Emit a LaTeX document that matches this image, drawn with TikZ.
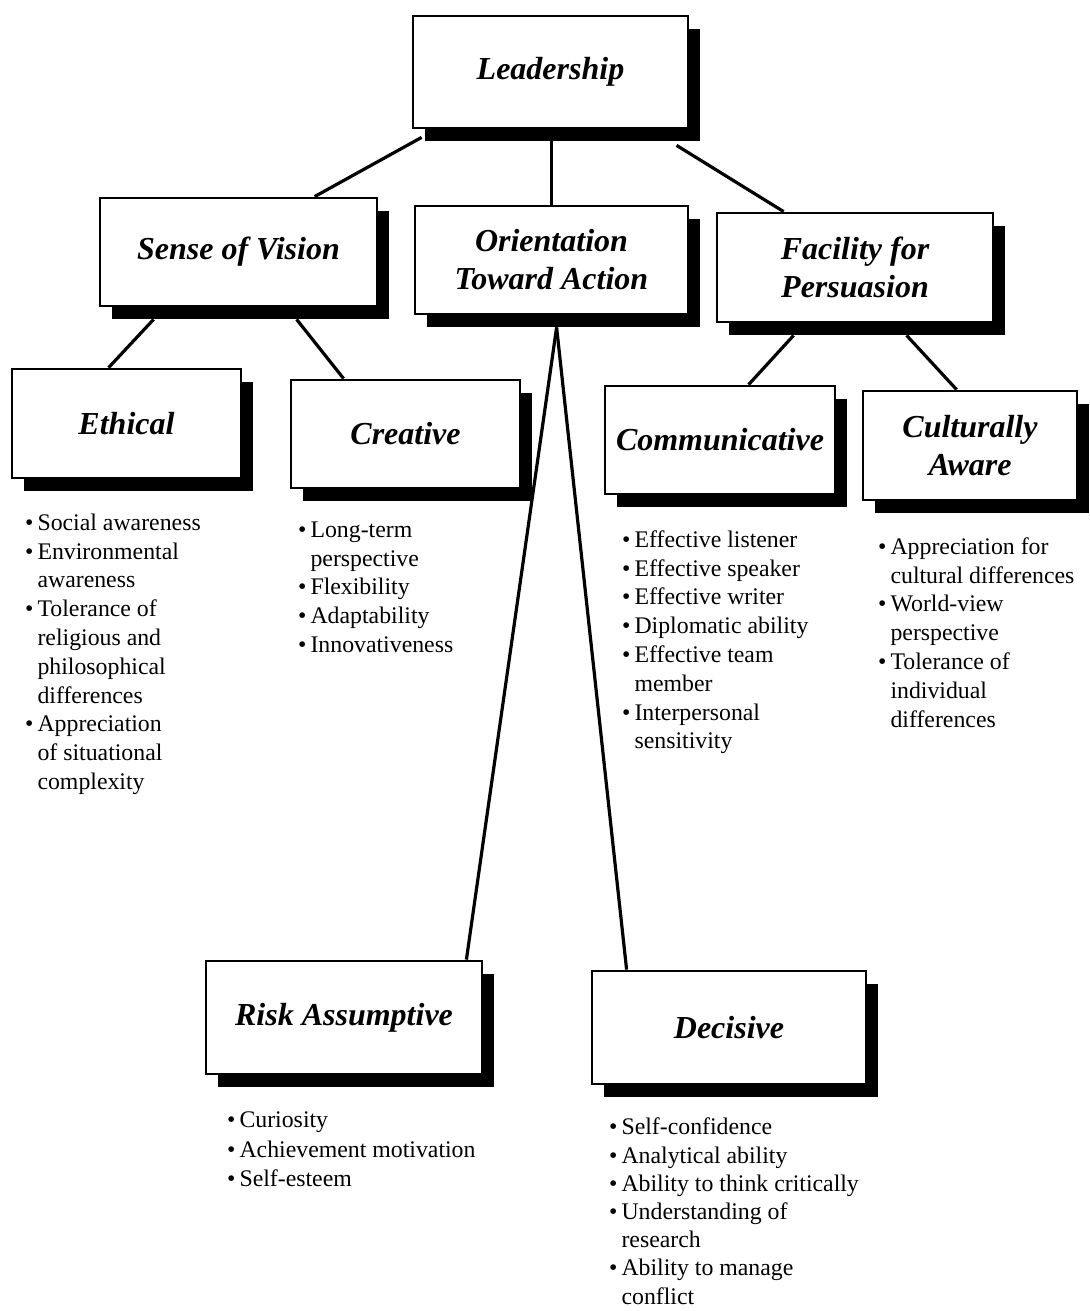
\documentclass[tikz,border=0pt]{standalone}
\usepackage{fontspec}
\setmainfont{Liberation Serif}
\usetikzlibrary{shadows,backgrounds,calc}
\begin{document}
\begin{tikzpicture}[x=1pt,y=-1pt,
  box/.style={draw=black, line width=2.8pt, fill=white, inner sep=0pt, align=center,
    font=\fontsize{32}{38}\selectfont\bfseries\itshape,
    drop shadow={shadow xshift=12pt, shadow yshift=-13pt, opacity=1, fill=black}},
  conn/.style={line width=3.2pt},
  lst/.style={anchor=north west, inner sep=0pt, align=left, font=\fontsize{23.8}{28.8}\selectfont}]
\useasboundingbox (0,0) rectangle (1089,1311);

% boxes
\node[box, minimum width=275pt, minimum height=112pt] (lead) at (550.5,72) {Leadership};
\node[box, minimum width=277pt, minimum height=108pt] (sense) at (238.5,252) {Sense of Vision};
\node[box, minimum width=273pt, minimum height=108pt] (orient) at (551.5,260) {Orientation\\Toward Action};
\node[box, minimum width=276pt, minimum height=109pt] (fac) at (855,267.5) {Facility for\\Persuasion};
\node[box, minimum width=229pt, minimum height=109pt] (eth) at (126.5,423.5) {Ethical};
\node[box, minimum width=229pt, minimum height=108pt] (cre) at (405.5,434) {Creative};
\node[box, minimum width=230pt, minimum height=108pt] (com) at (720,440) {Communicative};
\node[box, minimum width=214pt, minimum height=109pt] (cul) at (970,445.5) {Culturally\\Aware};
\node[box, minimum width=276pt, minimum height=113pt] (risk) at (344,1017.5) {Risk Assumptive};
\node[box, minimum width=274pt, minimum height=113pt] (dec) at (729,1027.5) {Decisive};

% connectors
\begin{scope}[on background layer]
\draw[conn] ($(lead.south west)+(10,8)$) -- ($(sense.north west)+(216,0)$);
\draw[conn] ($(lead.south west)+(140,12)$) -- ($(orient.north west)+(138,0)$);
\draw[conn] ($(lead.south west)+(265,16)$) -- ($(fac.north west)+(68,0)$);
\draw[conn] ($(sense.south west)+(55,12)$) -- ($(eth.north west)+(98,0)$);
\draw[conn] ($(sense.south west)+(198,12)$) -- ($(cre.north west)+(54,0)$);
\coordinate (apex) at ($(orient.south west)+(143,12)$);
\draw[conn] (apex) -- ($(risk.north east)+(-17,0)$);
\draw[conn] (apex) -- ($(dec.north west)+(36,0)$);
\draw[conn] ($(fac.south west)+(78,12)$) -- ($(com.north west)+(145,0)$);
\draw[conn] ($(fac.south west)+(191,12)$) -- ($(cul.north west)+(95,0)$);
\end{scope}

% lists
\node[lst] (ethl) at (25,510) {\begin{tabular}{@{}l@{\hspace{4pt}}l@{}}
\textbullet & Social awareness\\
\textbullet & Environmental\\
 & awareness\\
\textbullet & Tolerance of\\
 & religious and\\
 & philosophical\\
 & differences\\
\textbullet & Appreciation\\
 & of situational\\
 & complexity
\end{tabular}};

\node[lst] (crel) at (298,517) {\begin{tabular}{@{}l@{\hspace{4pt}}l@{}}
\textbullet & Long-term\\
 & perspective\\
\textbullet & Flexibility\\
\textbullet & Adaptability\\
\textbullet & Innovativeness
\end{tabular}};

\node[lst] (coml) at (622,527) {\begin{tabular}{@{}l@{\hspace{4pt}}l@{}}
\textbullet & Effective listener\\
\textbullet & Effective speaker\\
\textbullet & Effective writer\\
\textbullet & Diplomatic ability\\
\textbullet & Effective team\\
 & member\\
\textbullet & Interpersonal\\
 & sensitivity
\end{tabular}};

\node[lst] (cull) at (878,534) {\begin{tabular}{@{}l@{\hspace{4pt}}l@{}}
\textbullet & Appreciation for\\
 & cultural differences\\
\textbullet & World-view\\
 & perspective\\
\textbullet & Tolerance of\\
 & individual\\
 & differences
\end{tabular}};

\node[lst, font=\fontsize{23.8}{29.5}\selectfont] (riskl) at (227,1107) {\begin{tabular}{@{}l@{\hspace{4pt}}l@{}}
\textbullet & Curiosity\\
\textbullet & Achievement motivation\\
\textbullet & Self-esteem
\end{tabular}};

\node[lst, font=\fontsize{23.8}{28.2}\selectfont] (decl) at (609,1115) {\begin{tabular}{@{}l@{\hspace{4pt}}l@{}}
\textbullet & Self-confidence\\
\textbullet & Analytical ability\\
\textbullet & Ability to think critically\\
\textbullet & Understanding of\\
 & research\\
\textbullet & Ability to manage\\
 & conflict
\end{tabular}};
\end{tikzpicture}
\end{document}
